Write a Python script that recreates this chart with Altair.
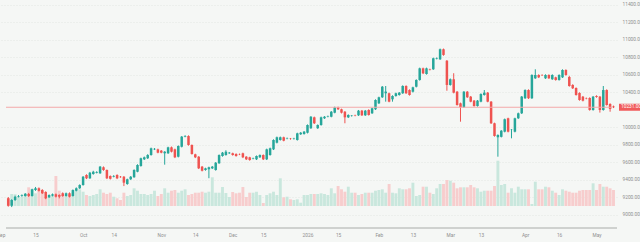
import altair as alt
import pandas as pd

# Daily OHLC bars (index-ordered trading sessions) and volume in millions
OPEN = [
    9190, 9106, 9171, 9209, 9217, 9217, 9240, 9217, 9285, 9305,
    9285, 9263, 9202, 9220, 9236, 9228, 9248, 9217, 9248, 9217,
    9277, 9305, 9342, 9457, 9419, 9468, 9483, 9476, 9545, 9514,
    9445, 9438, 9457, 9437, 9437, 9354, 9408, 9431, 9494, 9560,
    9636, 9648, 9685, 9750, 9750, 9735, 9705, 9705, 9773, 9750,
    9666, 9780, 9895, 9902, 9800, 9693, 9666, 9552, 9514, 9522,
    9533, 9514, 9591, 9674, 9685, 9705, 9705, 9697, 9693, 9705,
    9666, 9659, 9643, 9636, 9659, 9685, 9636, 9685, 9750, 9826,
    9857, 9888, 9872, 9872, 9870, 9857, 9922, 9926, 9940, 9991,
    10116, 9991, 10028, 10105, 10123, 10123, 10169, 10231, 10208, 10180,
    10116, 10131, 10139, 10139, 10192, 10139, 10200, 10162, 10208, 10276,
    10345, 10391, 10391, 10322, 10360, 10371, 10391, 10474, 10428, 10409,
    10466, 10543, 10676, 10611, 10665, 10665, 10785, 10779, 10894, 10763,
    10486, 10551, 10409, 10276, 10231, 10409, 10352, 10307, 10245, 10295,
    10371, 10398, 10295, 10048, 9888, 9893, 9952, 10105, 9971, 9952,
    10105, 10162, 10334, 10428, 10334, 10562, 10600, 10600, 10562, 10600,
    10551, 10573, 10543, 10573, 10657, 10577, 10486, 10451, 10394, 10352,
    10334, 10337, 10200, 10360, 10352, 10200, 10428, 10269, 10240,
]
HIGH = [
    9205, 9180, 9220, 9228, 9235, 9250, 9252, 9300, 9320, 9315,
    9295, 9270, 9235, 9245, 9245, 9236, 9258, 9256, 9258, 9292,
    9315, 9350, 9445, 9465, 9492, 9505, 9500, 9560, 9555, 9520,
    9452, 9455, 9465, 9445, 9445, 9415, 9445, 9522, 9580, 9655,
    9668, 9695, 9770, 9765, 9758, 9742, 9730, 9780, 9782, 9758,
    9795, 9902, 9912, 9910, 9806, 9700, 9672, 9560, 9540, 9552,
    9560, 9605, 9692, 9720, 9740, 9720, 9712, 9705, 9702, 9712,
    9672, 9665, 9655, 9680, 9692, 9692, 9758, 9770, 9865, 9896,
    9896, 9895, 9885, 9880, 9882, 9940, 9948, 9960, 10035, 10130,
    10124, 10035, 10124, 10130, 10136, 10188, 10238, 10238, 10215, 10188,
    10150, 10142, 10146, 10200, 10200, 10200, 10208, 10226, 10322, 10352,
    10474, 10474, 10398, 10368, 10398, 10405, 10482, 10482, 10436, 10466,
    10550, 10684, 10684, 10684, 10672, 10798, 10800, 10902, 10902, 10771,
    10560, 10620, 10416, 10284, 10416, 10416, 10360, 10314, 10314, 10390,
    10428, 10405, 10302, 10055, 9922, 9970, 10102, 10112, 9982, 10112,
    10170, 10360, 10436, 10436, 10608, 10665, 10608, 10608, 10608, 10608,
    10608, 10580, 10608, 10665, 10665, 10590, 10494, 10458, 10402, 10360,
    10342, 10345, 10360, 10368, 10360, 10474, 10436, 10276, 10250,
]
LOW = [
    9095, 9090, 9160, 9200, 9208, 9210, 9205, 9210, 9275, 9268,
    9240, 9180, 9195, 9212, 9200, 9190, 9208, 9210, 9200, 9210,
    9270, 9298, 9335, 9410, 9412, 9460, 9475, 9470, 9505, 9410,
    9405, 9430, 9410, 9425, 9330, 9345, 9400, 9425, 9488, 9552,
    9628, 9640, 9678, 9742, 9705, 9705, 9575, 9698, 9715, 9650,
    9658, 9772, 9888, 9792, 9690, 9650, 9525, 9498, 9506, 9420,
    9525, 9506, 9584, 9666, 9678, 9698, 9678, 9666, 9684, 9650,
    9628, 9620, 9636, 9628, 9652, 9628, 9628, 9678, 9742, 9818,
    9850, 9842, 9865, 9860, 9862, 9850, 9915, 9918, 9932, 9984,
    10040, 9984, 10020, 10098, 10116, 10116, 10162, 10200, 10160, 10048,
    10108, 10124, 10128, 10132, 10132, 10132, 10136, 10155, 10200, 10268,
    10338, 10295, 10288, 10295, 10352, 10364, 10384, 10384, 10364, 10400,
    10458, 10535, 10610, 10604, 10652, 10658, 10778, 10772, 10820, 10420,
    10478, 10390, 10250, 10066, 10224, 10338, 10288, 10238, 10238, 10288,
    10364, 10288, 10040, 9895, 9666, 9886, 9944, 9944, 9876, 9944,
    10098, 10154, 10326, 10326, 10326, 10555, 10565, 10590, 10555, 10555,
    10544, 10535, 10535, 10566, 10592, 10466, 10440, 10364, 10306, 10298,
    10322, 10192, 10192, 10340, 10170, 10192, 10250, 10180, 10222,
]
CLOSE = [
    9106, 9171, 9209, 9217, 9225, 9240, 9217, 9293, 9305, 9277,
    9248, 9190, 9228, 9236, 9209, 9209, 9217, 9248, 9209, 9285,
    9305, 9342, 9437, 9419, 9483, 9494, 9491, 9552, 9514, 9419,
    9414, 9445, 9419, 9432, 9369, 9408, 9437, 9514, 9571, 9648,
    9659, 9685, 9762, 9756, 9712, 9712, 9723, 9773, 9723, 9659,
    9788, 9895, 9902, 9800, 9697, 9659, 9533, 9506, 9533, 9545,
    9552, 9597, 9685, 9712, 9723, 9712, 9685, 9674, 9690, 9659,
    9636, 9628, 9648, 9674, 9685, 9636, 9750, 9762, 9857, 9888,
    9888, 9849, 9876, 9868, 9874, 9933, 9940, 9952, 10028, 10123,
    10048, 10028, 10116, 10123, 10128, 10180, 10231, 10208, 10169, 10116,
    10143, 10135, 10135, 10192, 10139, 10192, 10143, 10219, 10314, 10345,
    10466, 10410, 10295, 10360, 10391, 10398, 10474, 10391, 10371, 10459,
    10543, 10676, 10619, 10676, 10660, 10791, 10791, 10894, 10829, 10486,
    10551, 10398, 10257, 10231, 10409, 10345, 10295, 10245, 10307, 10382,
    10398, 10295, 10048, 9903, 9914, 9963, 10094, 9952, 9975, 10105,
    10162, 10353, 10428, 10334, 10600, 10600, 10573, 10596, 10600, 10562,
    10600, 10543, 10600, 10657, 10600, 10474, 10448, 10371, 10314, 10306,
    10330, 10200, 10352, 10349, 10200, 10428, 10257, 10212, 10231,
]
VOLUME = [
    0.77, 1.20, 1.17, 0.90, 0.90, 1.30, 1.87, 1.67, 1.27, 1.60,
    1.53, 0.87, 0.93, 1.00, 3.00, 1.53, 1.10, 1.00, 1.10, 1.43,
    1.53, 1.67, 1.43, 1.10, 1.00, 1.10, 1.20, 1.67, 1.33, 1.20,
    1.33, 0.93, 0.77, 0.60, 1.33, 1.00, 1.10, 1.77, 1.53, 1.20,
    1.20, 1.10, 1.20, 1.53, 1.00, 1.20, 1.77, 1.33, 1.53, 1.60,
    1.33, 1.53, 1.67, 1.10, 1.20, 1.33, 1.33, 1.43, 1.33, 1.43,
    2.87, 1.33, 1.33, 1.90, 1.30, 0.90, 1.40, 1.27, 1.33, 1.90,
    0.90, 1.33, 1.33, 1.43, 1.10, 0.30, 1.10, 1.27, 1.43, 1.10,
    2.77, 0.87, 0.93, 0.67, 0.60, 0.67, 0.33, 1.10, 1.10, 1.20,
    1.20, 1.20, 1.27, 1.20, 1.10, 1.77, 1.27, 2.00, 1.67, 1.43,
    1.93, 1.33, 1.33, 1.10, 1.20, 1.33, 1.33, 1.33, 1.53, 1.60,
    1.67, 1.33, 2.20, 1.33, 1.27, 1.77, 1.67, 1.67, 1.77, 2.33,
    1.00, 1.10, 1.93, 1.93, 1.33, 1.20, 1.77, 2.20, 2.20, 2.60,
    2.53, 2.33, 1.77, 1.87, 1.87, 1.87, 2.10, 1.87, 1.77, 1.43,
    1.53, 1.53, 1.53, 2.00, 4.53, 2.10, 2.20, 1.33, 1.77, 1.33,
    1.93, 1.67, 1.67, 1.67, 0.20, 2.43, 1.67, 1.67, 1.93, 1.87,
    1.53, 1.33, 1.10, 1.67, 1.53, 1.43, 1.33, 1.33, 1.53, 1.60,
    1.60, 1.60, 2.27, 1.60, 2.20, 1.93, 1.93, 1.77, 1.60,
]

# Time-axis labels, placed at bar positions
X_TICK_POS = [-2.2, 8, 22, 31, 45, 55, 66, 75, 88, 97, 109, 119, 130, 139, 152, 162, 173]
X_TICK_TEXT = ["Sep", "15", "Oct", "14", "Nov", "14", "Dec", "15", "2026",
               "15", "Feb", "13", "Mar", "13", "Apr", "16", "May"]
PRICE_TICKS = [9000, 9200, 9400, 9600, 9800, 10000, 10400, 10600, 10800, 11000, 11200, 11400]

UP = "#26a69a"
DOWN = "#ef5350"
VOL_UP = "#c9e7dd"
VOL_DOWN = "#f7cdcd"
BG = "#f5f7f5"
LABEL = "#8f8f8f"
FONT = "Roboto"
FS = 4.8

df = pd.DataFrame({
    "i": list(range(len(CLOSE))),
    "o": OPEN, "h": HIGH, "l": LOW, "c": CLOSE, "v": VOLUME,
})
last = df.tail(1)

W, H = 617, 228
x_scale = alt.Scale(domain=[-2.44, 179.03], nice=False, zero=False, padding=0)
price_scale = alt.Scale(domain=[8851, 11457], nice=False, zero=False, padding=0)
vol_scale = alt.Scale(domain=[-2.2, 20.6], nice=False, zero=False, padding=0)

label_expr = f"{X_TICK_TEXT}[indexof({X_TICK_POS}, datum.value)]"
x_axis = alt.Axis(
    values=X_TICK_POS, labelExpr=label_expr, ticks=False, domain=False, grid=False,
    labelFontSize=FS, labelColor=LABEL, labelFont=FONT, labelPadding=4,
    labelOverlap=False, labelFlush=False, title=None,
)
price_axis = alt.Axis(
    orient="right", values=PRICE_TICKS, format=".2f", ticks=False, domain=False,
    labelFontSize=FS, labelColor=LABEL, labelFont=FONT, labelPadding=5,
    labelAlign="left", labelBaseline="middle", labelOverlap=False, labelFlush=False,
    grid=True, gridColor="#e2e6e2", gridDash=[1, 2], gridWidth=1, title=None,
)
X = alt.X("i:Q", scale=x_scale, axis=x_axis)
direction = alt.condition("datum.c >= datum.o", alt.value(UP), alt.value(DOWN))
vol_direction = alt.condition("datum.c >= datum.o", alt.value(VOL_UP), alt.value(VOL_DOWN))

volume = alt.Chart(df).mark_bar(size=2.9).encode(
    x=X,
    y=alt.Y("v:Q", scale=vol_scale, axis=None),
    color=vol_direction,
)

wicks = alt.Chart(df).mark_rule(strokeWidth=1).encode(
    x=X,
    y=alt.Y("l:Q", scale=price_scale, axis=price_axis),
    y2="h:Q",
    color=direction,
)

bodies = alt.Chart(df).mark_bar(size=2.5).encode(
    x=X,
    y=alt.Y("o:Q", scale=price_scale, axis=None),
    y2="c:Q",
    color=direction,
)

price_line = alt.Chart(last).mark_rule(color="#f3a9a9", strokeWidth=1).encode(
    x=alt.value(6), x2=alt.value(612),
    y=alt.Y("c:Q", scale=price_scale, axis=None),
)

tag = alt.Chart(last).mark_rule(color="#f05b5b", strokeWidth=7).encode(
    x=alt.value(619), x2=alt.value(660),
    y=alt.Y("c:Q", scale=price_scale, axis=None),
)

tag_text = alt.Chart(last).mark_text(
    align="left", baseline="middle", color="white", fontSize=FS, font=FONT,
).encode(
    x=alt.value(621),
    y=alt.Y("c:Q", scale=price_scale, axis=None),
    text=alt.Text("c:Q", format=".2f"),
)

time_line = alt.Chart(last).mark_rule(color="#a9aca9", strokeWidth=1).encode(
    x=alt.value(6), x2=alt.value(617), y=alt.value(H),
)

chart = alt.layer(
    volume, wicks, bodies, price_line, tag, tag_text, time_line
).resolve_scale(
    y="independent"
).properties(
    width=W, height=H,
    autosize=alt.AutoSizeParams(type="none"),
    padding={"left": 0, "right": 23, "top": 0, "bottom": 14},
).configure(
    background=BG,
).configure_view(
    stroke=None,
)

chart.save("out.html", embed_options={"renderer": "svg", "actions": False})
